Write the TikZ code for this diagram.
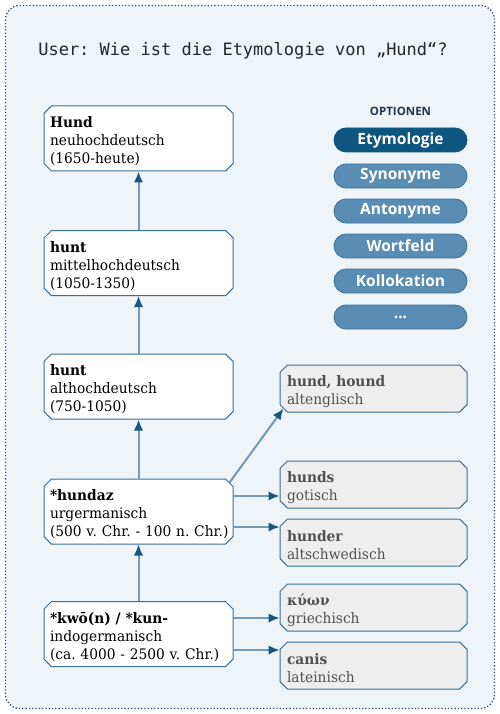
\documentclass[tikz,border=0pt]{standalone}
\usepackage{fontspec}
\setmainfont{DejaVu Serif}[FakeStretch=0.95]
\newfontfamily\monof{DejaVu Sans Mono}
\newfontfamily\btnf{Open Sans}
\usetikzlibrary{shapes.misc,arrows.meta}
\definecolor{bgc}{HTML}{EFF4F9}
\definecolor{outerc}{HTML}{2F4C6C}
\definecolor{boxc}{HTML}{3A6F97}
\definecolor{arrc}{HTML}{7099BA}
\definecolor{tipc}{HTML}{17577F}
\definecolor{greyfill}{HTML}{EEEEEE}
\definecolor{greytext}{HTML}{505050}
\definecolor{btndark}{HTML}{0E5580}
\definecolor{btnlight}{HTML}{5A8DB3}
\definecolor{navy}{HTML}{1E3552}
\newcommand{\topstrut}{\rule{0pt}{17pt}}
\frenchspacing
\begin{document}
\begin{tikzpicture}[x=1pt,y=-1pt,
  base/.style={chamfered rectangle, chamfered rectangle xsep=4pt, draw=boxc, line width=1pt,
    align=left, inner ysep=0pt,
    font=\fontsize{14.5}{18}\selectfont},
  lbox/.style={base, fill=white, text=black, inner xsep=2pt, minimum width=189pt, minimum height=65pt, text width=177pt},
  rbox/.style={base, fill=greyfill, text=greytext, inner xsep=3pt, minimum width=187pt, minimum height=47pt, text width=173pt},
  btn/.style={rounded rectangle, draw=boxc, line width=0.8pt, fill=btnlight, text=white,
    minimum width=133pt, minimum height=24pt, inner sep=0pt, font=\btnf\bfseries\fontsize{15.5}{17}\selectfont},
  arr/.style={draw=arrc, line width=2pt, -{Latex[length=11pt,width=9.5pt,color=tipc]}},
]
\useasboundingbox (0,0) rectangle (500,714);
\draw[draw=outerc, fill=bgc, rounded corners=14pt, dotted, line width=1.3pt] (5.5,5.5) rectangle (494.5,708.5);

\node[font=\monof\fontsize{17}{20}\selectfont, text=black!85] (title) at (243,51) {User: Wie ist die Etymologie von „Hund“?};

\node[lbox] (n1) at (138.5,138.5) {\topstrut\textbf{Hund}\\neuhochdeutsch\\(1650-heute)};
\node[lbox] (n2) at (138.5,263) {\topstrut\textbf{hunt}\\mittelhochdeutsch\\(1050-1350)};
\node[lbox] (n3) at (138.5,386.5) {\topstrut\textbf{hunt}\\althochdeutsch\\(750-1050)};
\node[lbox] (n4) at (138.5,511.5) {\topstrut\textbf{*hundaz}\\urgermanisch\\\mbox{(500 v. Chr. - 100 n. Chr.)}};
\node[lbox] (n5) at (138.5,634) {\topstrut\textbf{*kwō(n) / *kun-}\\indogermanisch\\\mbox{(ca. 4000 - 2500 v. Chr.)}};

\node[rbox] (e1) at (373.5,388.5) {\topstrut\textbf{hund, hound}\\altenglisch};
\node[rbox] (e2) at (373.5,484.5) {\topstrut\textbf{hunds}\\gotisch};
\node[rbox] (e3) at (373.5,542.5) {\topstrut\textbf{hunder}\\altschwedisch};
\node[rbox] (e4) at (373.5,607.5) {\topstrut\textbf{κύων}\\griechisch};
\node[rbox] (e5) at (373.5,665.5) {\topstrut\textbf{canis}\\lateinisch};

\draw[arr] (n2.north) -- (n1.south);
\draw[arr] (n3.north) -- (n2.south);
\draw[arr] (n4.north) -- (n3.south);
\draw[arr] (n5.north) -- (n4.south);
\draw[arr] (n4.north east) -- (e1.south west);
\draw[arr] ([yshift=15.5pt]n4.east) -- ([yshift=15.5pt]n4.east -| e2.west);
\draw[arr] ([yshift=-15.5pt]n4.east) -- ([yshift=-15.5pt]n4.east -| e3.west);
\draw[arr] ([yshift=16pt]n5.east) -- ([yshift=16pt]n5.east -| e4.west);
\draw[arr] ([yshift=-16pt]n5.east) -- ([yshift=-16pt]n5.east -| e5.west);

\node[font=\btnf\bfseries\fontsize{11.5}{13}\selectfont, text=navy] (opt) at (400.5,111) {OPTIONEN};
\node[btn, fill=btndark, draw=btndark] (b1) at (400.5,140) {Etymologie};
\node[btn] (b2) at (400.5,176) {Synonyme};
\node[btn] (b3) at (400.5,211) {Antonyme};
\node[btn] (b4) at (400.5,246) {Wortfeld};
\node[btn] (b5) at (400.5,281) {Kollokation};
\node[btn] (b6) at (400.5,317) {...};
\end{tikzpicture}
\end{document}
